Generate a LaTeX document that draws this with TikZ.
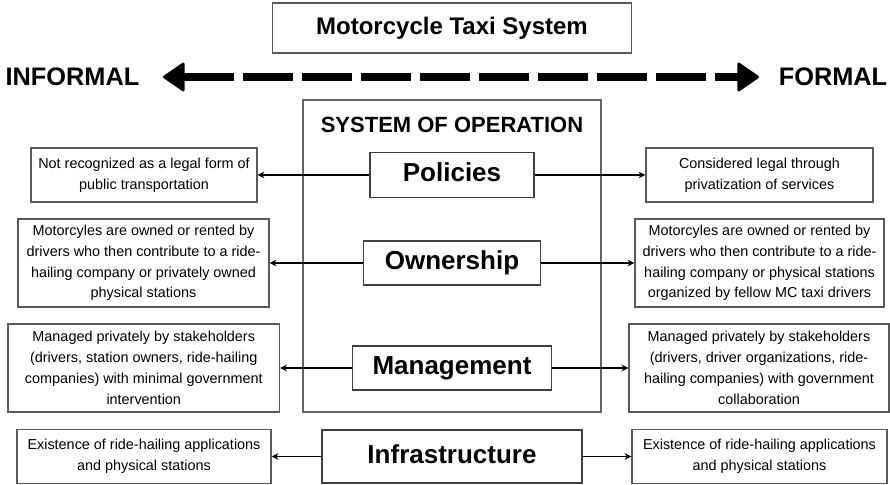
\documentclass[tikz,border=0pt]{standalone}
\usepackage{fontspec}
\setmainfont{Liberation Sans}
\usetikzlibrary{arrows.meta}

\tikzset{
  sidebox/.style={draw=black!65, line width=1.1pt, align=center, inner sep=0pt,
    font=\fontsize{10.8}{15.6}\selectfont},
  keybox/.style={draw=black!75, line width=1.2pt, inner sep=0pt,
    text height=14pt, text depth=4pt, font=\fontsize{19.5}{22}\selectfont\bfseries},
  link/.style={-{Stealth[length=5pt,width=5pt]}, line width=1.1pt},
  bigarrow/.style={{Triangle[length=17pt,width=23pt,line width=2pt,round]}-{Triangle[length=17pt,width=23pt,line width=2pt,round]},
    line width=5.6pt, dash pattern=on 37.5pt off 6.75pt}
}

\begin{document}
\begin{tikzpicture}[x=0.75pt,y=-0.75pt]

\useasboundingbox (0,0) rectangle (890,485);

\node[draw=black!65, line width=1.2pt, minimum width=269pt, minimum height=37.5pt, inner sep=0pt,
  font=\fontsize{18}{20}\selectfont\bfseries] (title) at (452,28) {Motorcycle Taxi System};

\node[font=\fontsize{19}{21}\selectfont\bfseries, inner sep=0pt] (informal) at (72.5,77) {INFORMAL};
\node[font=\fontsize{19}{21}\selectfont\bfseries, inner sep=0pt] (formal) at (833,77) {FORMAL};
\coordinate (tipl) at (163,77);
\coordinate (tipr) at (759,77);
\draw[bigarrow] (tipl) -- (tipr);

\node[draw=black!60, line width=1pt, minimum width=223.3pt, minimum height=233.8pt, inner sep=0pt]
  (sysop) at (452,256) {};
\node[font=\fontsize{16.5}{18}\selectfont\bfseries, inner sep=0pt] (sysname) at (452,124.5) {SYSTEM OF OPERATION};

\node[keybox, minimum width=123pt, minimum height=33.5pt] (pol) at (452,175) {Policies};
\node[keybox, minimum width=133pt, minimum height=33pt] (own) at (452,263) {Ownership};
\node[keybox, minimum width=149.25pt, minimum height=33pt] (mgmt) at (452,368) {Management};
\node[keybox, minimum width=195pt, minimum height=39.75pt] (infra) at (452,456.5) {Infrastructure};

\node[sidebox, minimum width=169.5pt, minimum height=40.5pt] (pol-l) at (144,175)
  {Not recognized as a legal form of\\public transportation};
\node[sidebox, minimum width=170.25pt, minimum height=40.5pt] (pol-r) at (759.5,175)
  {Considered legal through\\privatization of services};

\node[sidebox, minimum width=188.25pt, minimum height=66pt] (own-l) at (143.5,263)
  {Motorcyles are owned or rented by\\drivers who then contribute to a ride-\\hailing company or privately owned\\physical stations};
\node[sidebox, minimum width=186.75pt, minimum height=66pt] (own-r) at (759.5,263)
  {Motorcyles are owned or rented by\\drivers who then contribute to a ride-\\hailing company or physical stations\\organized by fellow MC taxi drivers};

\node[sidebox, minimum width=203.6pt, minimum height=66pt] (mgmt-l) at (143.75,368)
  {Managed privately by stakeholders\\(drivers, station owners, ride-hailing\\companies) with minimal government\\intervention};
\node[sidebox, minimum width=195pt, minimum height=66pt] (mgmt-r) at (759,368)
  {Managed privately by stakeholders\\(drivers, driver organizations, ride-\\hailing companies) with government\\collaboration};

\node[sidebox, minimum width=190.5pt, minimum height=40.5pt] (infra-l) at (144,456.5)
  {Existence of ride-hailing applications\\and physical stations};
\node[sidebox, minimum width=191.25pt, minimum height=40.5pt] (infra-r) at (759.5,456.5)
  {Existence of ride-hailing applications\\and physical stations};

\foreach \n in {pol,own,mgmt,infra}{
  \draw[link] (\n) -- (\n-l);
  \draw[link] (\n) -- (\n-r);
}

\end{tikzpicture}
\end{document}
